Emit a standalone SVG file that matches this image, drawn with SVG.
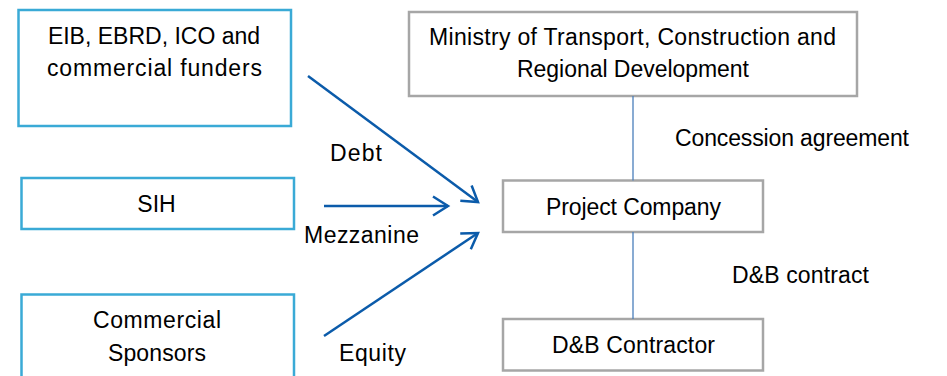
<svg xmlns="http://www.w3.org/2000/svg" width="947" height="376" viewBox="0 0 947 376">
<style>
  text { font-family: "Liberation Sans", Arial, sans-serif; font-size: 23px; fill: #000; }
  .c { text-anchor: middle; }
  .blue { fill: #fff; stroke: #3AAAD6; stroke-width: 2.5; }
  .gray { fill: #fff; stroke: #A6A6A6; stroke-width: 2.5; }
  .arrow { stroke: #0B5BAA; stroke-width: 2.5; fill: none; }
  .link { stroke: #4A7EBB; stroke-width: 1.3; fill: none; }
</style>
<defs>
  <marker id="ah" markerUnits="userSpaceOnUse" markerWidth="24" markerHeight="24" viewBox="-20 -12 24 24" refX="0" refY="0" orient="auto">
    <path d="M-15,-9.5 L0,0 L-15,9.5" fill="none" stroke="#0B5BAA" stroke-width="2.5" stroke-linejoin="miter"/>
  </marker>
</defs>
<rect width="947" height="376" fill="#fff"/>
<g id="funders">
  <rect class="blue" x="18.5" y="10" width="272.5" height="116"/>
  <text class="c" x="154" y="44">EIB, EBRD, ICO and</text>
  <text class="c" x="154.5" y="76" textLength="215">commercial funders</text>
</g>
<g id="sih">
  <rect class="blue" x="21.5" y="178" width="272.5" height="51"/>
  <text class="c" x="156.5" y="212">SIH</text>
</g>
<g id="sponsors">
  <rect class="blue" x="21.5" y="294.5" width="272.5" height="100"/>
  <text class="c" x="157" y="328" textLength="128">Commercial</text>
  <text class="c" x="157" y="361" textLength="98">Sponsors</text>
</g>
<g id="ministry">
  <rect class="gray" x="409" y="12" width="448" height="84"/>
  <text class="c" x="632.5" y="45" textLength="407">Ministry of Transport, Construction and</text>
  <text class="c" x="633" y="77" textLength="232">Regional Development</text>
</g>
<g id="project">
  <rect class="gray" x="503" y="180.5" width="260" height="51.5"/>
  <text class="c" x="633.5" y="215" textLength="175">Project Company</text>
</g>
<g id="contractor">
  <rect class="gray" x="503" y="319" width="260" height="51.5"/>
  <text class="c" x="633.5" y="353" textLength="163">D&amp;B Contractor</text>
</g>
<g id="connectors">
  <line class="arrow" x1="308" y1="76" x2="478" y2="202" marker-end="url(#ah)"/>
  <line class="arrow" x1="324" y1="206" x2="448" y2="206" marker-end="url(#ah)"/>
  <line class="arrow" x1="324" y1="336" x2="478" y2="233" marker-end="url(#ah)"/>
  <line class="link" x1="633" y1="96" x2="633" y2="180.5"/>
  <line class="link" x1="633" y1="232" x2="633" y2="319"/>
  <text x="330" y="161" textLength="52">Debt</text>
  <text x="304" y="243" textLength="115">Mezzanine</text>
  <text x="339" y="361" textLength="67">Equity</text>
  <text x="675" y="146" textLength="234">Concession agreement</text>
  <text x="732" y="283" textLength="137">D&amp;B contract</text>
</g>
</svg>
